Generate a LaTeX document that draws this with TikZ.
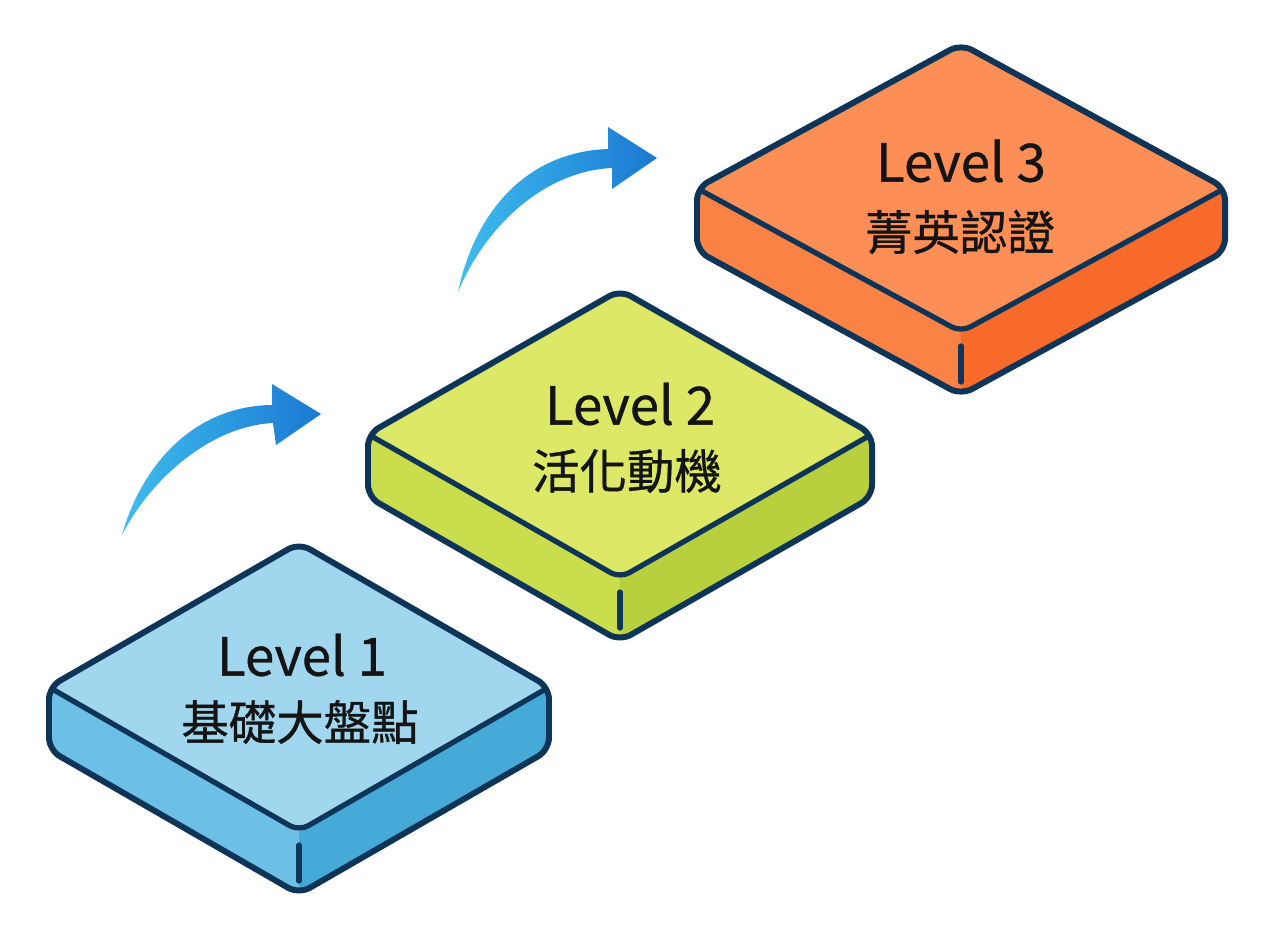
\documentclass[tikz,border=0pt]{standalone}
\usepackage{fontspec}
\setmainfont{Noto Sans CJK TC}[FakeBold=0.7]
\usetikzlibrary{positioning}

\definecolor{edge}{HTML}{0E3558}
\definecolor{ink}{HTML}{141414}
\definecolor{blueT}{HTML}{A0D6EE}
\definecolor{blueL}{HTML}{6CC0E6}
\definecolor{blueR}{HTML}{46AAD8}
\definecolor{limeT}{HTML}{DDE866}
\definecolor{limeL}{HTML}{CADD4C}
\definecolor{limeR}{HTML}{B9D03E}
\definecolor{orgT}{HTML}{FC8E56}
\definecolor{orgL}{HTML}{FA8244}
\definecolor{orgR}{HTML}{F76A2A}
\definecolor{arrlight}{HTML}{3FBDEE}
\definecolor{arrdark}{HTML}{1A78D2}

\begin{document}
\begin{tikzpicture}[
  x=0.02cm, y=-0.02cm,
  outline/.style={draw=edge, line width=3.4pt, line join=round, rounded corners=7pt},
  ridge/.style={draw=edge, line width=3pt, line cap=round, line join=round, rounded corners=6pt},
  lvl/.style={text=ink, inner sep=0pt, font=\fontsize{30}{36}\selectfont},
  cjk/.style={text=ink, inner sep=0pt, font=\fontsize{27}{32}\selectfont},
  curve/.style={left color=arrlight, right color=arrdark}
]
  \useasboundingbox (0,0) rectangle (1280,940);

  % --- PLACAS ---
  % centro x / centro y / media anchura / colores cara superior, izquierda, derecha
  \foreach \cx/\cy/\hw/\ttop/\tlft/\trgt in {299/687/250/blueT/blueL/blueR,
                                              620/434/252/limeT/limeL/limeR,
                                              961/188/264/orgT/orgL/orgR} {
    \begin{scope}
      \clip[rounded corners=7pt] (\cx,{\cy-144}) -- ({\cx-\hw},\cy) -- ({\cx-\hw},{\cy+63})
        -- (\cx,{\cy+207}) -- ({\cx+\hw},{\cy+63}) -- ({\cx+\hw},\cy) -- cycle;
      \fill[\tlft] ({\cx-\hw-5},\cy) -- (\cx,{\cy+144}) -- (\cx,{\cy+215}) -- ({\cx-\hw-5},{\cy+70}) -- cycle;
      \fill[\trgt] ({\cx+\hw+5},\cy) -- (\cx,{\cy+144}) -- (\cx,{\cy+215}) -- ({\cx+\hw+5},{\cy+70}) -- cycle;
      \fill[\ttop] (\cx,{\cy-150}) -- ({\cx-\hw-5},\cy) -- (\cx,{\cy+144}) -- ({\cx+\hw+5},\cy) -- cycle;
    \end{scope}
    % contorno y aristas
    \draw[outline] (\cx,{\cy-144}) -- ({\cx-\hw},\cy) -- ({\cx-\hw},{\cy+63})
      -- (\cx,{\cy+207}) -- ({\cx+\hw},{\cy+63}) -- ({\cx+\hw},\cy) -- cycle;
    \draw[ridge] ({\cx-\hw+5},{\cy+3}) -- (\cx,{\cy+144}) -- ({\cx+\hw-5},{\cy+3});
    \draw[ridge] (\cx,{\cy+158}) -- (\cx,{\cy+194});
  }

  % --- TEXTOS ---
  \node[lvl] (lvla) at (302,655) {Level 1};
  \node[cjk] (cjka) at (300,722) {基礎大盤點};
  \node[lvl] (lvlb) at (630,404) {Level 2};
  \node[cjk] (cjkb) at (627,471) {活化動機};
  \node[lvl] (lvlc) at (961,161) {Level 3};
  \node[cjk] (cjkc) at (960,232) {菁英認證};

  % --- FLECHAS ---
  \coordinate (tailA) at (122,535);
  \coordinate (tipA) at (321,414);
  \coordinate (tailB) at (458,292);
  \coordinate (tipB) at (657,158);

  \shade[curve] (tailA) .. controls (140,470) and (190,406) .. (272,405)
    -- (272,384) -- (tipA) -- (276,445) -- (273,423)
    .. controls (210,426) and (150,480) .. (tailA) -- cycle;
  \shade[curve] (tailB) .. controls (474,215) and (524,152) .. (608,149)
    -- (608,127) -- (tipB) -- (612,189) -- (612,168)
    .. controls (545,171) and (486,225) .. (tailB) -- cycle;
\end{tikzpicture}
\end{document}
